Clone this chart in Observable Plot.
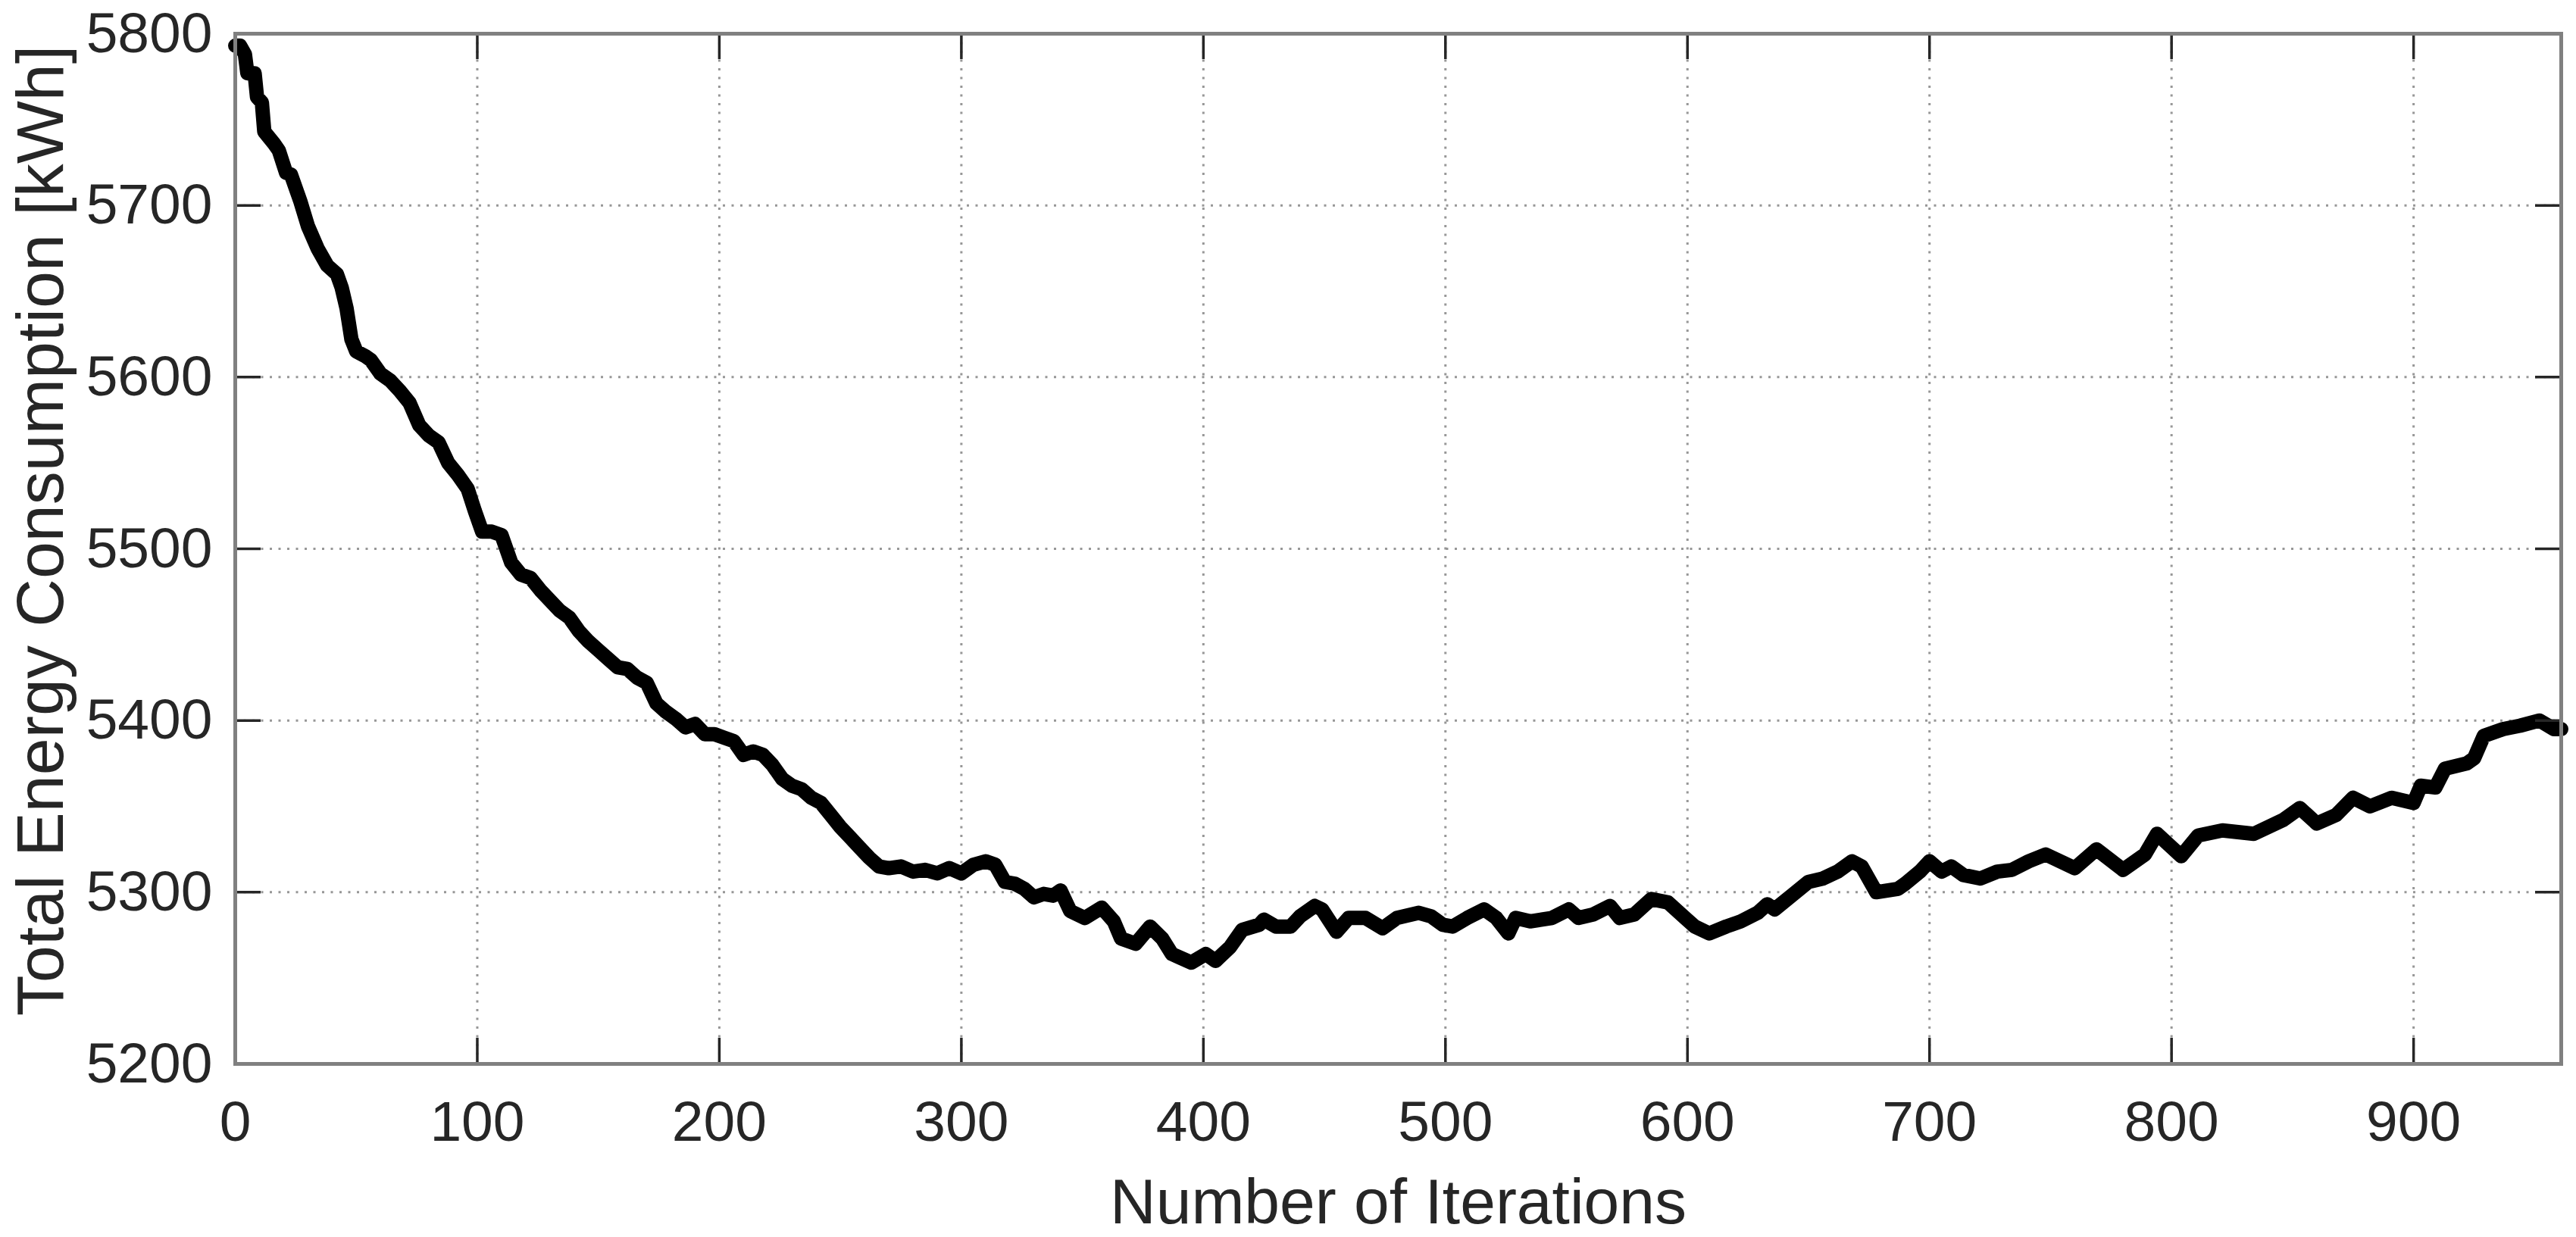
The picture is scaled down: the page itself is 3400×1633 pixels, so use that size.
<!DOCTYPE html>
<html>
<head>
<meta charset="utf-8">
<script src="https://cdn.jsdelivr.net/npm/d3@7"></script>
<script src="https://cdn.jsdelivr.net/npm/@observablehq/plot@0.6"></script>
<style>
  html, body { margin: 0; padding: 0; background: #fff; }
  #chart svg { display: block; }
</style>
</head>
<body>
<div id="chart"></div>
<script>
const iterations = [0,2,4,5,8,9,11,12,16,18,21,23,27,30,34,38,42,44,46,48,50,54,56,60,64,68,72,76,80,84,88,92,96,99,102,106,110,114,118,122,126,130,134,138,142,146,150,154,158,162,166,170,174,178,182,186,190,194,198,202,206,210,214,218,222,226,230,234,238,242,246,250,254,258,262,266,270,275,280,285,290,295,300,305,310,314,318,322,326,330,334,338,341,345,351,358,363,366,372,378,383,387,395,401,405,411,416,423,425,430,436,440,446,449,455,460,467,474,480,489,494,499,503,509,516,521,526,529,535,544,551,555,561,568,572,578,585,592,599,603,609,616,622,629,633,636,643,650,656,662,668,672,678,687,690,696,700,705,709,714,721,728,734,741,748,760,769,780,789,794,804,811,821,834,846,853,860,868,875,882,891,900,903,909,913,922,925,929,937,944,952,958,961];
const energy = [5793,5793,5788,5777,5777,5763,5760,5743,5736,5732,5719,5718,5702,5688,5675,5665,5660,5652,5640,5622,5615,5612,5610,5602,5598,5592,5585,5572,5566,5562,5550,5543,5535,5522,5510,5510,5508,5492,5485,5483,5476,5470,5464,5460,5452,5446,5441,5436,5431,5430,5425,5422,5410,5405,5401,5396,5398,5392,5392,5390,5388,5380,5382,5380,5374,5366,5362,5360,5355,5352,5345,5338,5332,5326,5320,5315,5314,5315,5312,5313,5311,5314,5311,5316,5318,5316,5306,5305,5302,5297,5299,5298,5301,5289,5285,5291,5283,5273,5270,5280,5273,5264,5259,5264,5260,5268,5278,5281,5284,5280,5280,5286,5292,5290,5277,5285,5285,5279,5285,5288,5286,5281,5280,5285,5290,5285,5276,5285,5283,5285,5290,5285,5287,5292,5285,5287,5296,5294,5285,5280,5276,5280,5283,5288,5293,5290,5298,5306,5308,5312,5318,5315,5300,5302,5305,5312,5318,5312,5315,5310,5308,5312,5313,5318,5322,5314,5325,5313,5322,5334,5321,5333,5336,5334,5342,5349,5340,5345,5355,5350,5355,5352,5362,5361,5372,5375,5378,5391,5395,5397,5400,5395,5395];
const xTicks = [0,100,200,300,400,500,600,700,800,900];
const yTicks = [5200,5300,5400,5500,5600,5700,5800];
const xDomain = [0, 961];
const yDomain = [5200, 5800];
const xLabel = "Number of Iterations";
const yLabel = "Total Energy Consumption [kWh]";

const data = iterations.map((it, i) => ({it, e: energy[i]}));

const W = 3400, H = 1633;
const mL = 310, mR = 20, mT = 44, mB = 229;
const innerH = H - mT - mB, innerW = W - mL - mR;
const tickLen = 34;
const gridStyle = {stroke: "#8c8c8c", strokeWidth: 3, strokeDasharray: "3,8.5", strokeOpacity: 0.9};
const tickStyle = {stroke: "#262626", strokeWidth: 3.5};
const font = "'Liberation Sans', Arial, Helvetica, sans-serif";
const xMid = (xDomain[0] + xDomain[1]) / 2;
const yMid = (yDomain[0] + yDomain[1]) / 2;

const chart = Plot.plot({
  width: W, height: H,
  marginLeft: mL, marginRight: mR, marginTop: mT, marginBottom: mB,
  style: {fontFamily: font, background: "#fff", color: "#262626"},
  x: {domain: xDomain, axis: null},
  y: {domain: yDomain, axis: null},
  marks: [
    Plot.ruleX(xTicks.filter(d => d > xDomain[0]), {x: d => d, ...gridStyle}),
    Plot.ruleY(yTicks.filter(d => d > yDomain[0] && d < yDomain[1]), {y: d => d, ...gridStyle}),
    Plot.line(data, {x: "it", y: "e", stroke: "#000", strokeWidth: 19, strokeLinejoin: "round", strokeLinecap: "round"}),
    // inward tick marks on all four sides
    Plot.ruleX(xTicks, {x: d => d, insetTop: innerH - tickLen, ...tickStyle}),
    Plot.ruleX(xTicks, {x: d => d, insetBottom: innerH - tickLen, ...tickStyle}),
    Plot.ruleY(yTicks, {y: d => d, insetRight: innerW - tickLen, ...tickStyle}),
    Plot.ruleY(yTicks, {y: d => d, insetLeft: innerW - tickLen, ...tickStyle}),
    Plot.frame({stroke: "#808080", strokeWidth: 5}),
    Plot.axisX({ticks: xTicks, tickSize: 0, tickPadding: 48, fontSize: 75, tickFormat: d => String(d), fill: "#262626", label: null}),
    Plot.axisY({ticks: yTicks, tickSize: 0, tickPadding: 30, fontSize: 75, tickFormat: d => String(d), fill: "#262626", label: null}),
    Plot.text([{x: xMid, y: yDomain[0], t: xLabel}], {x: "x", y: "y", text: "t", lineAnchor: "top", textAnchor: "middle", dy: 151, fontSize: 84, fill: "#262626"}),
    Plot.text([{x: xDomain[0], y: yMid, t: yLabel}], {x: "x", y: "y", text: "t", rotate: -90, lineAnchor: "middle", textAnchor: "middle", dx: -256, dy: -24, fontSize: 88, fill: "#262626"})
  ]
});
document.getElementById("chart").appendChild(chart);
</script>
</body>
</html>
